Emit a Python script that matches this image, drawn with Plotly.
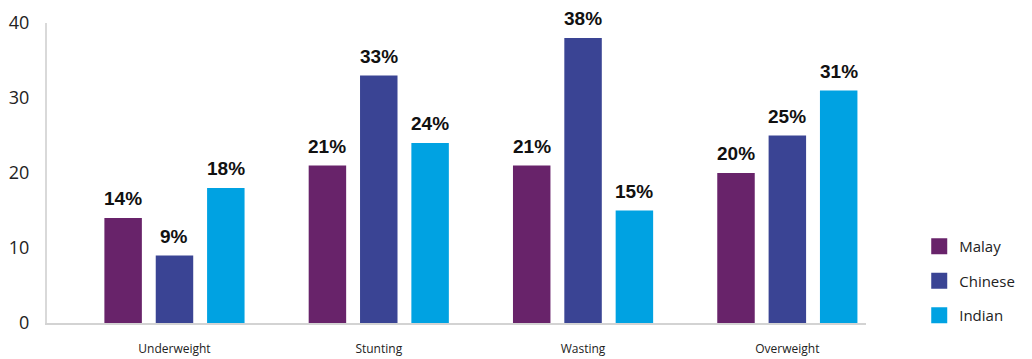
import plotly.graph_objects as go

categories = ["Underweight", "Stunting", "Wasting", "Overweight"]
series_names = ["Malay", "Chinese", "Indian"]
malay = [14, 21, 21, 20]
chinese = [9, 33, 38, 25]
indian = [18, 24, 15, 31]
colors = ["#68236A", "#3A4494", "#00A2E2"]
y_ticks = [0, 10, 20, 30, 40]

values = [malay, chinese, indian]

fig = go.Figure()
for name, vals, col in zip(series_names, values, colors):
    fig.add_trace(go.Bar(
        x=categories, y=vals, name=name, marker_color=col,
        marker_line_width=0, offsetgroup=name, legendgroup=name,
        showlegend=False,
    ))
# legend entries with larger square swatches
for name, col in zip(series_names, colors):
    fig.add_trace(go.Scatter(
        x=[None], y=[None], mode="markers", name=name, legendgroup=name,
        marker=dict(symbol="square", size=22, color=col), showlegend=True,
    ))

# value labels above bars
n = len(series_names)
slot = 1 - 0.246
for i, (name, vals) in enumerate(zip(series_names, values)):
    for j, v in enumerate(vals):
        xoff = (i - (n - 1) / 2) * slot / n
        fig.add_annotation(
            x=j + xoff, y=v, xref="x", yref="y", text=f"<b>{v}%</b>",
            showarrow=False, yanchor="bottom", yshift=7,
            font=dict(family="Liberation Sans, Arial", size=19, color="#111111"),
        )

# page body has an 8px margin: compensate so the plot lands where the reference is
fig.update_layout(
    width=1024, height=351,
    margin=dict(l=39, r=163, t=15, b=36),
    paper_bgcolor="white", plot_bgcolor="white",
    barmode="group", bargap=0.246, bargroupgap=0.27,
    showlegend=True,
    legend=dict(
        x=1.065, y=0.31, xanchor="left", yanchor="top",
        font=dict(family="Open Sans", size=15, color="#222222"),
        traceorder="grouped", tracegroupgap=12,
        itemsizing="trace",
    ),
)
fig.update_xaxes(
    type="category", showgrid=False, showline=True, linecolor="#d3d3d3", linewidth=2,
    ticks="", tickfont=dict(family="Open Sans", size=12, color="#222222"),
    ticklabelstandoff=14, automargin=False, range=[-0.624, 3.385],
)
fig.update_yaxes(
    range=[0, 40], tickvals=y_ticks, showgrid=False, zeroline=False,
    showline=True, linecolor="#d9d9d9", linewidth=2, ticks="",
    tickfont=dict(family="Open Sans", size=18, color="#222222"),
    ticklabelstandoff=12, automargin=False,
)

fig.write_html("out.html")
